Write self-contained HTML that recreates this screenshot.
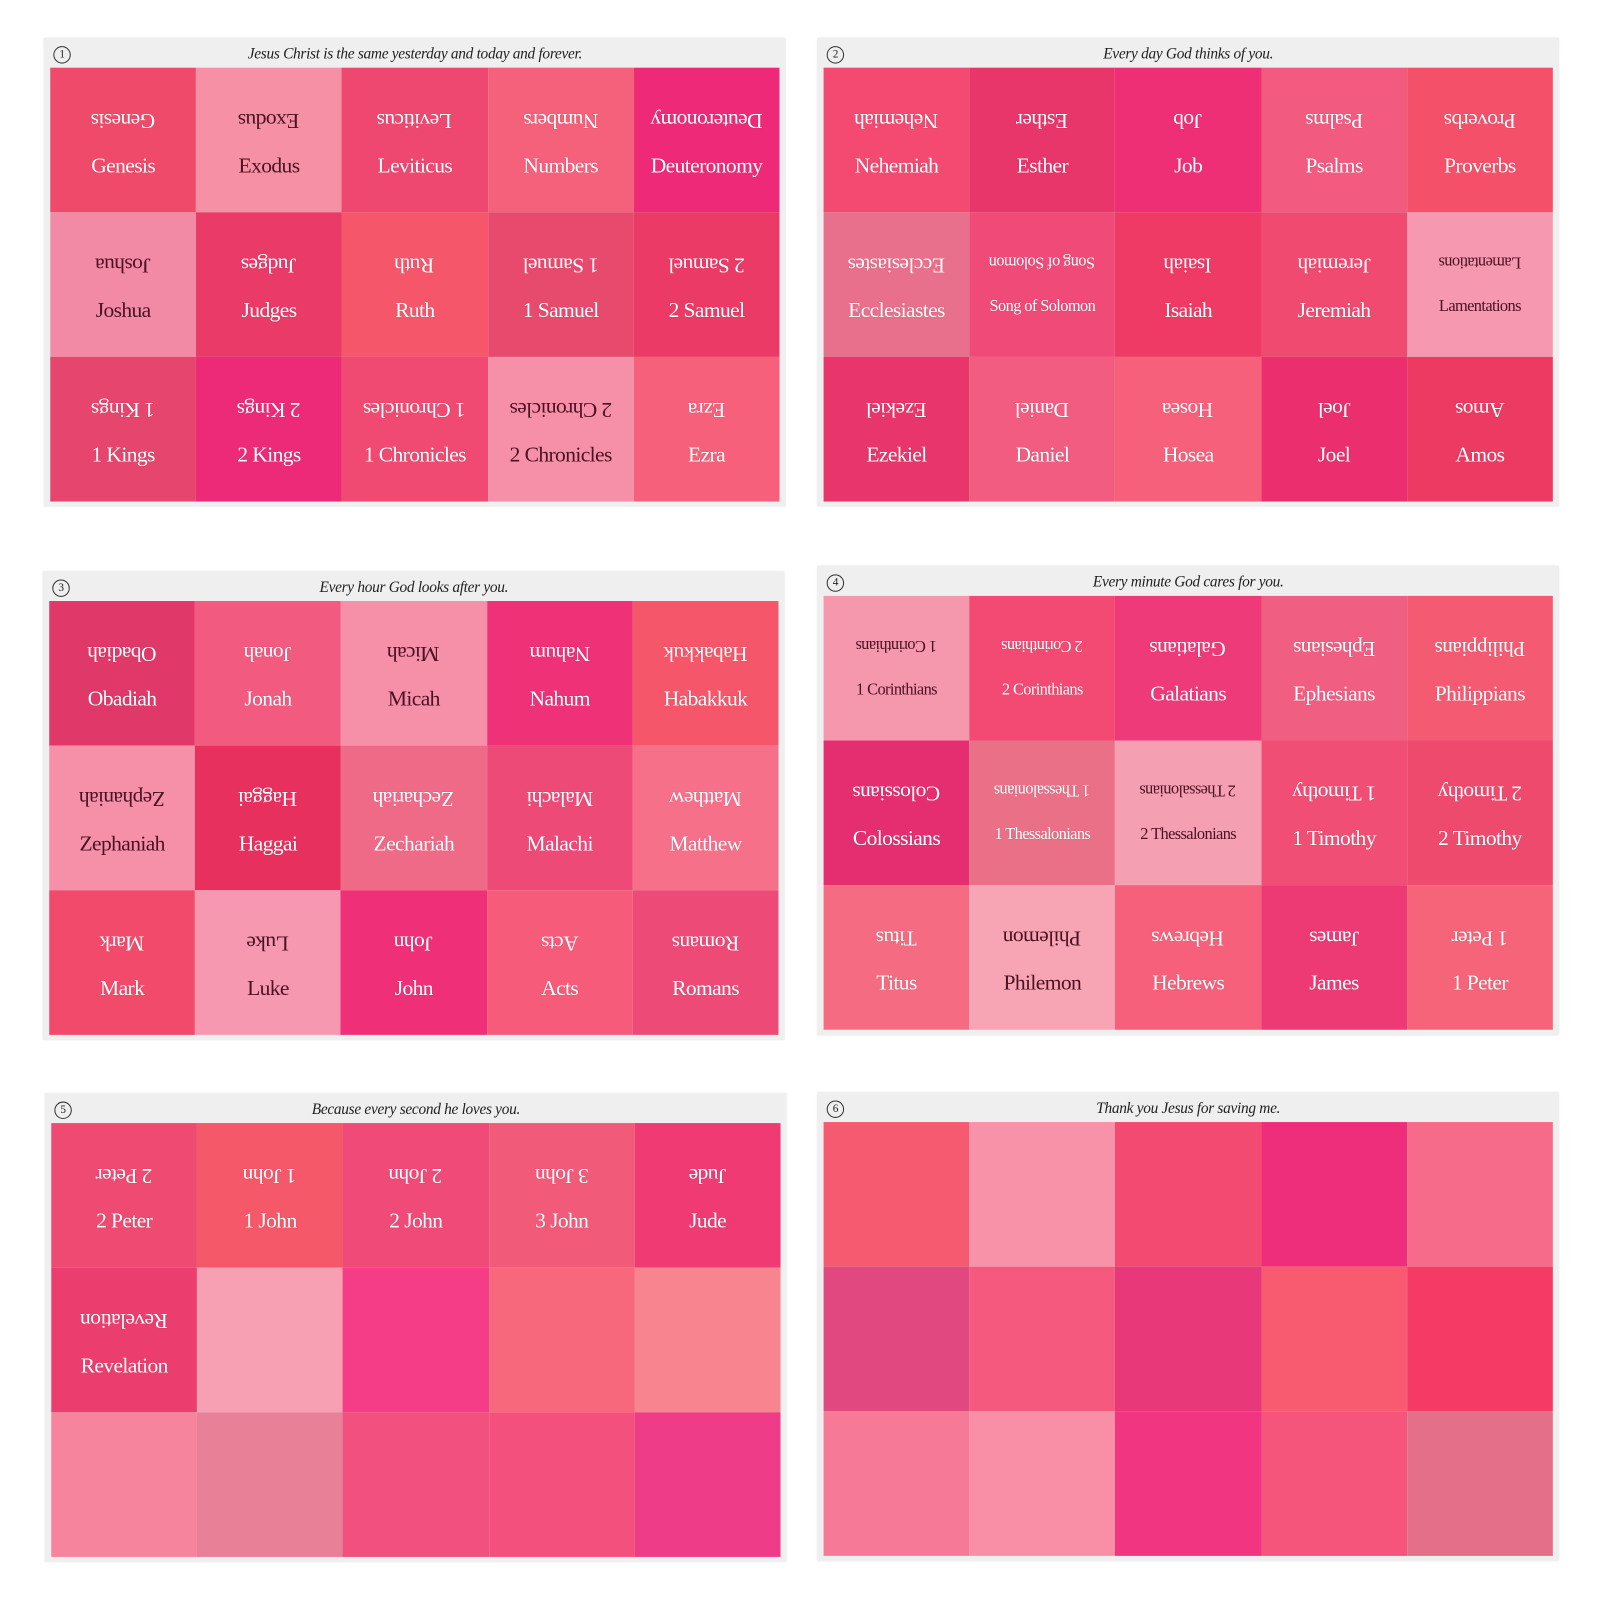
<!DOCTYPE html>
<html><head><meta charset="utf-8"><style>
html,body{margin:0;padding:0;background:#fff;width:1600px;height:1600px;overflow:hidden}
#w{position:absolute;left:0;top:0;width:1560px;height:1560px;transform:scale(1.02564);transform-origin:0 0}
.s{position:absolute;width:723px;height:457px;background:#efefef;box-shadow:0 0 2px #ddd}
.h{position:absolute;left:0;top:0;width:723px;height:29px;font:italic 15px "Liberation Serif",serif;color:#222;text-align:center;line-height:33px;letter-spacing:-0.3px}
.n{position:absolute;left:9px;top:8px;width:15px;height:15px;border:1px solid #333;border-radius:50%;font:11px "Liberation Serif",serif;font-style:normal;line-height:15px;text-align:center}
.g{position:absolute;left:6px;top:29px;width:711px;height:423px;display:grid;grid-template-columns:repeat(5,1fr);grid-template-rows:repeat(3,1fr)}
.g div{position:relative;color:#fff;font:21px "Liberation Serif",serif;letter-spacing:-0.6px;text-shadow:0 0 1px rgba(0,0,0,.25)}
.g div.d{color:#4a1222;text-shadow:none}
.g b,.g i{position:absolute;left:0;right:0;text-align:center;font-weight:normal;font-style:normal;white-space:nowrap}
.g b{top:39px;transform:rotate(180deg)}
.g i{top:83px}
.sm{font-size:16px!important}
</style></head><body><div id="w">

<div class="s" style="left:43px;top:37px"><div class="h"><span class="n">1</span>Jesus Christ is the same yesterday and today and forever.</div><div class="g">
<div style="background:#f04a6a"><b>Genesis</b><i>Genesis</i></div>
<div class="d" style="background:#f590a5"><b>Exodus</b><i>Exodus</i></div>
<div style="background:#ef4870"><b>Leviticus</b><i>Leviticus</i></div>
<div style="background:#f5607a"><b>Numbers</b><i>Numbers</i></div>
<div style="background:#ee2a78"><b>Deuteronomy</b><i>Deuteronomy</i></div>
<div class="d" style="background:#f28aa5"><b>Joshua</b><i>Joshua</i></div>
<div style="background:#e93a68"><b>Judges</b><i>Judges</i></div>
<div style="background:#f5566a"><b>Ruth</b><i>Ruth</i></div>
<div style="background:#e84a6e"><b>1 Samuel</b><i>1 Samuel</i></div>
<div style="background:#ec3a66"><b>2 Samuel</b><i>2 Samuel</i></div>
<div style="background:#e6456e"><b>1 Kings</b><i>1 Kings</i></div>
<div style="background:#ec2a78"><b>2 Kings</b><i>2 Kings</i></div>
<div style="background:#f04a72"><b>1 Chronicles</b><i>1 Chronicles</i></div>
<div class="d" style="background:#f590a8"><b>2 Chronicles</b><i>2 Chronicles</i></div>
<div style="background:#f6607a"><b>Ezra</b><i>Ezra</i></div>
</div></div>

<div class="s" style="left:797px;top:37px"><div class="h"><span class="n">2</span>Every day God thinks of you.</div><div class="g">
<div style="background:#f44a72"><b>Nehemiah</b><i>Nehemiah</i></div>
<div style="background:#e8356a"><b>Esther</b><i>Esther</i></div>
<div style="background:#ef2f75"><b>Job</b><i>Job</i></div>
<div style="background:#f25a80"><b>Psalms</b><i>Psalms</i></div>
<div style="background:#f5506a"><b>Proverbs</b><i>Proverbs</i></div>
<div style="background:#e9708c"><b>Ecclesiastes</b><i>Ecclesiastes</i></div>
<div style="background:#f04a78"><b class="sm">Song of Solomon</b><i class="sm">Song of Solomon</i></div>
<div style="background:#ee3a64"><b>Isaiah</b><i>Isaiah</i></div>
<div style="background:#f04a70"><b>Jeremiah</b><i>Jeremiah</i></div>
<div class="d" style="background:#f698b0"><b class="sm">Lamentations</b><i class="sm">Lamentations</i></div>
<div style="background:#e8356b"><b>Ezekiel</b><i>Ezekiel</i></div>
<div style="background:#f25c80"><b>Daniel</b><i>Daniel</i></div>
<div style="background:#f6607a"><b>Hosea</b><i>Hosea</i></div>
<div style="background:#ea2e6e"><b>Joel</b><i>Joel</i></div>
<div style="background:#ec3a62"><b>Amos</b><i>Amos</i></div>
</div></div>

<div class="s" style="left:42px;top:557px"><div class="h"><span class="n">3</span>Every hour God looks after you.</div><div class="g">
<div style="background:#e03868"><b>Obadiah</b><i>Obadiah</i></div>
<div style="background:#f25a80"><b>Jonah</b><i>Jonah</i></div>
<div class="d" style="background:#f590a8"><b>Micah</b><i>Micah</i></div>
<div style="background:#ef3278"><b>Nahum</b><i>Nahum</i></div>
<div style="background:#f6566a"><b>Habakkuk</b><i>Habakkuk</i></div>
<div class="d" style="background:#f590a8"><b>Zephaniah</b><i>Zephaniah</i></div>
<div style="background:#e8305e"><b>Haggai</b><i>Haggai</i></div>
<div style="background:#ef6a86"><b>Zechariah</b><i>Zechariah</i></div>
<div style="background:#ee4a78"><b>Malachi</b><i>Malachi</i></div>
<div style="background:#f6708a"><b>Matthew</b><i>Matthew</i></div>
<div style="background:#f24a6a"><b>Mark</b><i>Mark</i></div>
<div class="d" style="background:#f598b0"><b>Luke</b><i>Luke</i></div>
<div style="background:#ef3078"><b>John</b><i>John</i></div>
<div style="background:#f65c7a"><b>Acts</b><i>Acts</i></div>
<div style="background:#ee4a78"><b>Romans</b><i>Romans</i></div>
</div></div>

<div class="s" style="left:797px;top:552px"><div class="h"><span class="n">4</span>Every minute God cares for you.</div><div class="g">
<div class="d" style="background:#f598ae"><b class="sm">1 Corinthians</b><i class="sm">1 Corinthians</i></div>
<div style="background:#f24a72"><b class="sm">2 Corinthians</b><i class="sm">2 Corinthians</i></div>
<div style="background:#ef3a7a"><b>Galatians</b><i>Galatians</i></div>
<div style="background:#f05e82"><b>Ephesians</b><i>Ephesians</i></div>
<div style="background:#f45a72"><b>Philippians</b><i>Philippians</i></div>
<div style="background:#e52e70"><b>Colossians</b><i>Colossians</i></div>
<div style="background:#ea7088"><b class="sm">1 Thessalonians</b><i class="sm">1 Thessalonians</i></div>
<div class="d" style="background:#f5a0b2"><b class="sm">2 Thessalonians</b><i class="sm">2 Thessalonians</i></div>
<div style="background:#f04e74"><b>1 Timothy</b><i>1 Timothy</i></div>
<div style="background:#ee4a6e"><b>2 Timothy</b><i>2 Timothy</i></div>
<div style="background:#f56c82"><b>Titus</b><i>Titus</i></div>
<div class="d" style="background:#f7a4b4"><b>Philemon</b><i>Philemon</i></div>
<div style="background:#f6607a"><b>Hebrews</b><i>Hebrews</i></div>
<div style="background:#ee3a74"><b>James</b><i>James</i></div>
<div style="background:#f56478"><b>1 Peter</b><i>1 Peter</i></div>
</div></div>

<div class="s" style="left:44px;top:1066px"><div class="h"><span class="n">5</span>Because every second he loves you.</div><div class="g">
<div style="background:#ef4a72"><b>2 Peter</b><i>2 Peter</i></div>
<div style="background:#f55868"><b>1 John</b><i>1 John</i></div>
<div style="background:#f04a78"><b>2 John</b><i>2 John</i></div>
<div style="background:#f25a7a"><b>3 John</b><i>3 John</i></div>
<div style="background:#ef3a74"><b>Jude</b><i>Jude</i></div>
<div style="background:#ec3e6e"><b>Revelation</b><i>Revelation</i></div>
<div style="background:#f7a0b4"></div>
<div style="background:#f53c86"></div>
<div style="background:#f8687c"></div>
<div style="background:#f7848f"></div>
<div style="background:#f5849c"></div>
<div style="background:#e88098"></div>
<div style="background:#f2507e"></div>
<div style="background:#f4507e"></div>
<div style="background:#ef3c88"></div>
</div></div>

<div class="s" style="left:797px;top:1065px"><div class="h"><span class="n">6</span>Thank you Jesus for saving me.</div><div class="g">
<div style="background:#f65a70"></div>
<div style="background:#f892a8"></div>
<div style="background:#f24a70"></div>
<div style="background:#ee2e7a"></div>
<div style="background:#f66b8a"></div>
<div style="background:#e24880"></div>
<div style="background:#f55a7e"></div>
<div style="background:#e8387a"></div>
<div style="background:#f85a70"></div>
<div style="background:#f53a66"></div>
<div style="background:#f67a98"></div>
<div style="background:#f98fa6"></div>
<div style="background:#f23580"></div>
<div style="background:#f5557a"></div>
<div style="background:#e36f88"></div>
</div></div>

</div></body></html>
